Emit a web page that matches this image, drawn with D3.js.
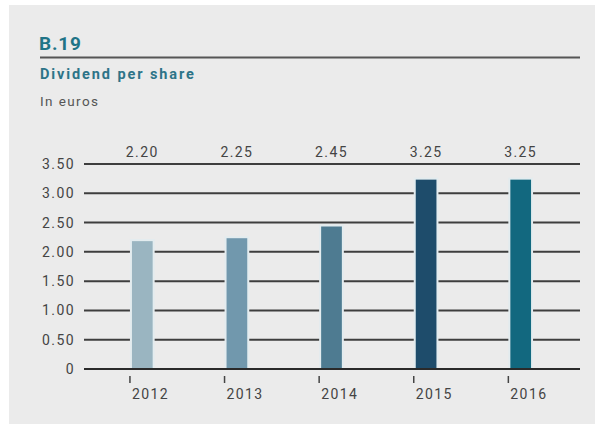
<!DOCTYPE html>
<html>
<head>
<meta charset="utf-8">
<script src="https://cdn.jsdelivr.net/npm/d3@7"></script>
<style>
  html, body { margin: 0; padding: 0; background: #ffffff; }
  svg { display: block; font-family: Roboto, "DejaVu Sans", sans-serif; }
</style>
</head>
<body>
<div id="app"></div>
<script>
const years = ['2012', '2013', '2014', '2015', '2016']
const dividends = [2.20, 2.25, 2.45, 3.25, 3.25]
const valueLabels = ['2.20', '2.25', '2.45', '3.25', '3.25']
const yTicks = [0, 0.5, 1, 1.5, 2, 2.5, 3, 3.5]
const barColors = ['#9ab5c1', '#7198ad', '#4e7b91', '#1e4c6b', '#12687f']

const width = 595
const height = 424
const bg = '#ebebeb'

const svg = d3.select('#app')
  .append('svg')
  .attr('width', width)
  .attr('height', height)

// panel
svg.append('rect')
  .attr('x', 9).attr('y', 5)
  .attr('width', width - 9).attr('height', height - 5)
  .attr('fill', bg)

// header
svg.append('text')
  .attr('x', 39).attr('y', 50)
  .attr('fill', '#1f7487')
  .attr('font-size', 19).attr('font-weight', 'bold')
  .attr('letter-spacing', 0.8)
  .text('B.19')

svg.append('line')
  .attr('x1', 40).attr('x2', 580)
  .attr('y1', 57.5).attr('y2', 57.5)
  .attr('stroke', '#555').attr('stroke-width', 2)

svg.append('text')
  .attr('x', 40).attr('y', 79)
  .attr('fill', '#2d7488')
  .attr('font-size', 14.5).attr('font-weight', 'bold')
  .attr('letter-spacing', 1.9)
  .text('Dividend per share')

svg.append('text')
  .attr('x', 40).attr('y', 106)
  .attr('fill', '#555')
  .attr('font-size', 13.5)
  .attr('letter-spacing', 1.4)
  .text('In euros')

// scales
const x = d3.scaleBand()
  .domain(years)
  .range([95, 568])
  .paddingInner(0.76)
  .paddingOuter(0.38)

const y = d3.scaleLinear()
  .domain([0, 3.5])
  .range([369, 164])

const labelStyle = sel => sel
  .attr('fill', '#444')
  .attr('font-size', 14)
  .attr('letter-spacing', 1.4)

// gridlines
svg.append('g')
  .selectAll('line')
  .data(yTicks.filter(d => d > 0))
  .join('line')
  .attr('x1', 84).attr('x2', 580)
  .attr('y1', d => y(d)).attr('y2', d => y(d))
  .attr('stroke', '#3e3e3e')
  .attr('stroke-width', 2)

// y labels
svg.append('g')
  .selectAll('text')
  .data(yTicks)
  .join('text')
  .attr('x', 75)
  .attr('y', d => y(d) + 5)
  .attr('text-anchor', 'end')
  .call(labelStyle)
  .text(d => d === 0 ? '0' : d3.format('.2f')(d))

// bars with a thin halo in a pale tint
svg.append('g')
  .selectAll('rect')
  .data(dividends)
  .join('rect')
  .attr('x', (d, i) => x(years[i]))
  .attr('y', d => y(d))
  .attr('width', x.bandwidth())
  .attr('height', d => y(0) - y(d))
  .attr('fill', (d, i) => barColors[i])
  .attr('stroke', '#e3ecef')
  .attr('stroke-width', 2)

// baseline on top
svg.append('line')
  .attr('x1', 84).attr('x2', 580)
  .attr('y1', y(0)).attr('y2', y(0))
  .attr('stroke', '#2a2a2a')
  .attr('stroke-width', 2)

// value labels
svg.append('g')
  .selectAll('text')
  .data(valueLabels)
  .join('text')
  .attr('x', (d, i) => x(years[i]) + x.bandwidth() / 2)
  .attr('y', 157)
  .attr('text-anchor', 'middle')
  .call(labelStyle)
  .text(d => d)

// x ticks and labels
const xt = svg.append('g')
  .selectAll('g')
  .data(years)
  .join('g')
  .attr('transform', d => `translate(${x(d) - 1},0)`)

xt.append('line')
  .attr('x1', 0).attr('x2', 0)
  .attr('y1', 376).attr('y2', 383)
  .attr('stroke', '#444').attr('stroke-width', 1.5)

xt.append('text')
  .attr('x', 2).attr('y', 399)
  .call(labelStyle)
  .text(d => d)
</script>
</body>
</html>
